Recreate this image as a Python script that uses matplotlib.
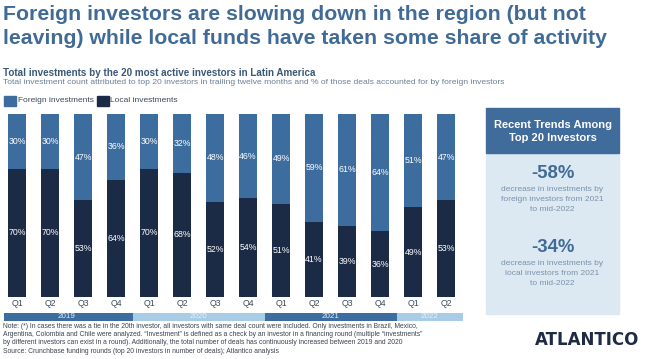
import matplotlib.pyplot as plt
from matplotlib.patches import Rectangle

plt.rcParams['font.family'] = ['Liberation Sans', 'DejaVu Sans']

# data
quarters = ['Q1', 'Q2', 'Q3', 'Q4', 'Q1', 'Q2', 'Q3', 'Q4', 'Q1', 'Q2', 'Q3', 'Q4', 'Q1', 'Q2']
foreign = [30, 30, 47, 36, 30, 32, 48, 46, 49, 59, 61, 64, 51, 47]
local = [70, 70, 53, 64, 70, 68, 52, 54, 51, 41, 39, 36, 49, 53]
years = ['2019', '2020', '2021', '2022']
year_start = [0, 4, 8, 12]
year_len = [4, 4, 4, 2]

C_FOR = '#3d6d9e'
C_LOC = '#1b2a45'
C_LIGHT = '#a9cce6'
C_TITLE = '#416b97'

W, H = 648, 359
fig = plt.figure(figsize=(6.48, 3.59), dpi=100)

def fx(px):
    return px / W

def fy(py):
    return 1 - py / H

# titles
fig.text(fx(3), fy(14), 'Foreign investors are slowing down in the region (but not',
         fontsize=15.3, fontweight='bold', color=C_TITLE, va='center')
fig.text(fx(3), fy(39), 'leaving) while local funds have taken some share of activity',
         fontsize=15.3, fontweight='bold', color=C_TITLE, va='center')
fig.text(fx(3), fy(72.5), 'Total investments by the 20 most active investors in Latin America',
         fontsize=7.1, fontweight='bold', color='#3a5878', va='center')
fig.text(fx(3), fy(83), 'Total investment count attributed to top 20 investors in trailing twelve months '
         'and % of those deals accounted for by foreign investors',
         fontsize=6.1, color='#6b7f95', va='center')

# legend
fig.patches.append(Rectangle((fx(4), fy(106)), fx(12), 10 / H, color=C_FOR, transform=fig.transFigure))
fig.text(fx(17.5), fy(101), 'Foreign investments', fontsize=6.0, color='#3a4a5e', va='center')
fig.patches.append(Rectangle((fx(97), fy(106)), fx(12), 10 / H, color=C_LOC, transform=fig.transFigure))
fig.text(fx(110.5), fy(101), 'Local investments', fontsize=6.0, color='#3a4a5e', va='center')

# bars
x0, x1 = 4, 463
xlim = (-0.394, 13.515)
ax = fig.add_axes([fx(x0), fy(297), fx(x1 - x0), 183 / H])
xs = list(range(len(quarters)))
ax.bar(xs, local, width=0.545, color=C_LOC)
ax.bar(xs, foreign, width=0.545, bottom=local, color=C_FOR)
for i in xs:
    ax.text(i, local[i] / 2, f'{local[i]}%', ha='center', va='center', color='white', fontsize=6.3)
    ax.text(i, local[i] + foreign[i] / 2, f'{foreign[i]}%', ha='center', va='center',
            color='white', fontsize=6.3)
ax.set_xlim(*xlim)
ax.set_ylim(0, 100)
ax.axis('off')

# quarter labels
axq = fig.add_axes([fx(x0), fy(310), fx(x1 - x0), 12 / H])
axq.set_xlim(*xlim)
axq.set_ylim(0, 1)
for i, q in enumerate(quarters):
    axq.text(i, 0.5, q, ha='center', va='center', fontsize=6.3, color='#3a4a5e')
axq.axis('off')

# year band
axy = fig.add_axes([fx(x0), fy(320.5), fx(x1 - x0), 7.5 / H])
axy.set_xlim(*xlim)
axy.set_ylim(0, 1)
for k, yr in enumerate(years):
    c = C_FOR if k % 2 == 0 else C_LIGHT
    axy.axvspan(year_start[k] - 0.5, year_start[k] + year_len[k] - 0.5, color=c, lw=0)
    axy.text(year_start[k] + (year_len[k] - 1) / 2, 0.5, yr, ha='center', va='center',
             fontsize=5.8, color='#e8f1f8')
axy.set_xlim(*xlim)
axy.axis('off')

# notes
notes = [
    'Note: (*) In cases there was a tie in the 20th investor, all investors with same deal count were included. '
    'Only investments in Brazil, Mexico,',
    'Argentina, Colombia and Chile were analyzed. \u201cInvestment\u201d is defined as a check by an investor in '
    'a financing round (multiple \u201cinvestments\u201d',
    'by different investors can exist in a round). Additionally, the total number of deals has continuously '
    'increased between 2019 and 2020',
    'Source: Crunchbase funding rounds (top 20 investors in number of deals); Atlantico analysis',
]
for k, line in enumerate(notes):
    fig.text(fx(3), fy(326 + 8.5 * k), line, fontsize=4.9, color='#3a4250', va='center')

# side panel
fig.patches.append(Rectangle((fx(486), fy(314)), fx(133), 161 / H, color='#dce9f3',
                             transform=fig.transFigure, zorder=0))
fig.patches.append(Rectangle((fx(486), fy(153)), fx(133), 45 / H, color='#3f6c9b',
                             transform=fig.transFigure, zorder=0))
pc = fx(552.5)
fig.text(pc, fy(125), 'Recent Trends Among', fontsize=8.0, fontweight='bold', color='white',
         ha='center', va='center')
fig.text(pc, fy(138.5), 'Top 20 Investors', fontsize=8.0, fontweight='bold', color='white',
         ha='center', va='center')
fig.text(pc, fy(173), '-58%', fontsize=13.3, fontweight='bold', color=C_TITLE, ha='center', va='center')
for k, s in enumerate(['decrease in investments by', 'foreign investors from 2021', 'to mid-2022']):
    fig.text(pc, fy(189.5 + 10 * k), s, fontsize=6.0, color='#7b92ab', ha='center', va='center')
fig.text(pc, fy(247), '-34%', fontsize=13.3, fontweight='bold', color=C_TITLE, ha='center', va='center')
for k, s in enumerate(['decrease in investments by', 'local investors from 2021', 'to mid-2022']):
    fig.text(pc, fy(263.5 + 10 * k), s, fontsize=6.0, color='#7b92ab', ha='center', va='center')

# logo
fig.text(fx(587), fy(340), 'ATLANTICO', fontsize=12, fontweight='bold', color='#1e2b44',
         ha='center', va='center', family=['DejaVu Sans'])

fig.savefig('out.png', dpi=100)
